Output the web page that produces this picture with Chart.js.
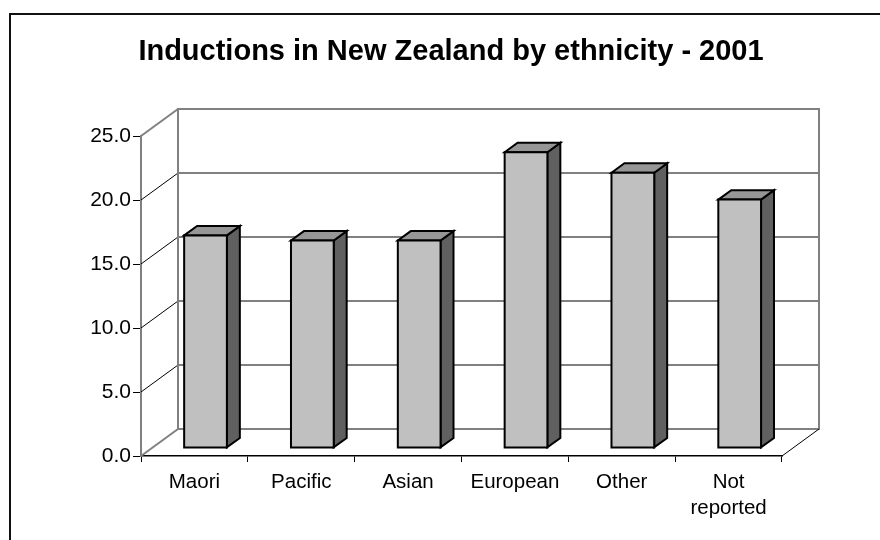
<!DOCTYPE html>
<html>
<head>
<meta charset="utf-8">
<title>Inductions in New Zealand by ethnicity - 2001</title>
<script src="https://cdn.jsdelivr.net/npm/chart.js@4/dist/chart.umd.min.js"></script>
<style>
  html, body { margin: 0; padding: 0; background: #ffffff; }
  #wrap { position: relative; width: 880px; height: 540px; }
</style>
</head>
<body>
<div id="wrap"><canvas id="chart" width="880" height="540"></canvas></div>
<script>
// Induction rate (%) per ethnic group, 2001
const categories = ['Maori', 'Pacific', 'Asian', 'European', 'Other', ['Not', 'reported']];
const inductionRates = [16.6, 16.2, 16.2, 23.1, 21.5, 19.4];
const yMin = 0;
const yMax = 25;
const yStep = 5;
const chartTitle = 'Inductions in New Zealand by ethnicity - 2001';

const FONT = '"Liberation Sans", Arial, Helvetica, sans-serif';

// Oblique depth of the 3-D box (back wall offset from the front plane)
const DEPTH = { dx: 37, dy: -27 };
// Bars sit between these fractions of the depth
const BAR_FRONT = 0.3;
const BAR_BACK = 0.65;

function line(ctx, x1, y1, x2, y2, color, width) {
  ctx.beginPath();
  ctx.strokeStyle = color;
  ctx.lineWidth = width;
  ctx.moveTo(x1, y1);
  ctx.lineTo(x2, y2);
  ctx.stroke();
}

// Outer frame of the chart object
const framePlugin = {
  id: 'frame',
  beforeDraw(chart) {
    const ctx = chart.ctx;
    ctx.save();
    ctx.fillStyle = '#ffffff';
    ctx.fillRect(0, 0, chart.width, chart.height);
    ctx.beginPath();
    ctx.strokeStyle = '#111111';
    ctx.lineWidth = 2;
    ctx.moveTo(10, chart.height);
    ctx.lineTo(10, 14);
    ctx.lineTo(chart.width, 14);
    ctx.stroke();
    ctx.restore();
  }
};

// Back wall, side wall and floor edges of the 3-D plot box, then the prisms
const wallsPlugin = {
  id: 'walls3d',
  beforeDatasetsDraw(chart) {
    const ctx = chart.ctx;
    const yS = chart.scales.y;
    const { left, right, top, bottom } = chart.chartArea;
    const { dx, dy } = DEPTH;
    ctx.save();
    ctx.lineCap = 'butt';
    yS.ticks.forEach(t => {
      const py = yS.getPixelForValue(t.value);
      // gridline on the back wall
      line(ctx, left + dx, py + dy, right + dx, py + dy, '#808080', 2);
    });
    yS.ticks.forEach(t => {
      const py = yS.getPixelForValue(t.value);
      const edge = t.value === yS.min || t.value === yS.max;
      // gridline continuing across the left side wall
      line(ctx, left, py, left + dx, py + dy, edge ? '#808080' : '#000000', edge ? 2 : 1);
    });
    // back wall vertical edges
    line(ctx, left + dx, top + dy - 1, left + dx, bottom + dy + 1, '#808080', 2);
    line(ctx, right + dx, top + dy - 1, right + dx, bottom + dy + 1, '#808080', 2);
    // right edge of the floor
    line(ctx, right, bottom, right + dx, bottom + dy, '#000000', 1);
    ctx.restore();
  },
  afterDatasetsDraw(chart) {
    const ctx = chart.ctx;
    const meta = chart.getDatasetMeta(0);
    const fx = DEPTH.dx * BAR_FRONT, fy = DEPTH.dy * BAR_FRONT;
    const bx = DEPTH.dx * (BAR_BACK - BAR_FRONT), by = DEPTH.dy * (BAR_BACK - BAR_FRONT);
    ctx.save();
    ctx.lineWidth = 2;
    ctx.lineJoin = 'miter';
    ctx.strokeStyle = '#000000';
    meta.data.forEach(bar => {
      const { x, y, base, width } = bar.getProps(['x', 'y', 'base', 'width'], true);
      const x0 = x - width / 2 + fx, x1 = x + width / 2 + fx;
      const yT = y + fy, yB = base + fy;
      // side face
      ctx.beginPath();
      ctx.moveTo(x1, yT);
      ctx.lineTo(x1 + bx, yT + by);
      ctx.lineTo(x1 + bx, yB + by);
      ctx.lineTo(x1, yB);
      ctx.closePath();
      ctx.fillStyle = '#606060';
      ctx.fill();
      ctx.stroke();
      // top face
      ctx.beginPath();
      ctx.moveTo(x0, yT);
      ctx.lineTo(x0 + bx, yT + by);
      ctx.lineTo(x1 + bx, yT + by);
      ctx.lineTo(x1, yT);
      ctx.closePath();
      ctx.fillStyle = '#969696';
      ctx.fill();
      ctx.stroke();
      // front face
      ctx.beginPath();
      ctx.rect(x0, yT, x1 - x0, yB - yT);
      ctx.fillStyle = '#c0c0c0';
      ctx.fill();
      ctx.stroke();
    });
    ctx.restore();
  }
};

new Chart(document.getElementById('chart'), {
  type: 'bar',
  data: {
    labels: categories,
    datasets: [{
      label: 'Inductions (%)',
      data: inductionRates,
      yAxisID: 'y',
      backgroundColor: 'rgba(0,0,0,0)',
      borderWidth: 0,
      categoryPercentage: 1.0,
      barPercentage: 0.4
    }]
  },
  options: {
    responsive: false,
    animation: false,
    events: [],
    layout: { padding: { left: 22, right: 0, top: 0, bottom: 0 } },
    plugins: {
      legend: { display: false },
      tooltip: { enabled: false },
      title: {
        display: true,
        text: chartTitle,
        color: '#000000',
        font: { family: FONT, size: 29, weight: 'bold', lineHeight: 1.2 },
        padding: { top: 34.6, bottom: 66.6 }
      }
    },
    scales: {
      x: {
        offset: true,
        grid: {
          offset: true,
          drawOnChartArea: false,
          drawTicks: true,
          tickLength: 6,
          color: '#000000',
          lineWidth: 1
        },
        border: { display: true, color: '#000000', width: 1.5 },
        ticks: {
          color: '#000000',
          font: { family: FONT, size: 20.5, lineHeight: 1.28 },
          padding: 7,
          maxRotation: 0,
          autoSkip: false
        },
        afterFit(scale) { scale.height = 84; }
      },
      y: {
        position: 'left',
        min: yMin,
        max: yMax,
        grid: {
          drawOnChartArea: false,
          drawTicks: true,
          tickLength: 8,
          color: '#000000',
          lineWidth: 1
        },
        border: { display: true, color: '#808080', width: 2 },
        ticks: {
          stepSize: yStep,
          color: '#000000',
          font: { family: FONT, size: 21 },
          padding: 2,
          callback: v => Number(v).toFixed(1)
        },
        afterFit(scale) { scale.width = 119; }
      },
      // empty margin on the right of the plot box, leaving room for its depth
      rightMargin: {
        type: 'linear',
        position: 'right',
        display: true,
        grid: { display: false, drawTicks: false },
        border: { display: false },
        ticks: { display: false },
        afterFit(scale) { scale.width = 98; }
      }
    }
  },
  plugins: [framePlugin, wallsPlugin]
});
</script>
</body>
</html>
